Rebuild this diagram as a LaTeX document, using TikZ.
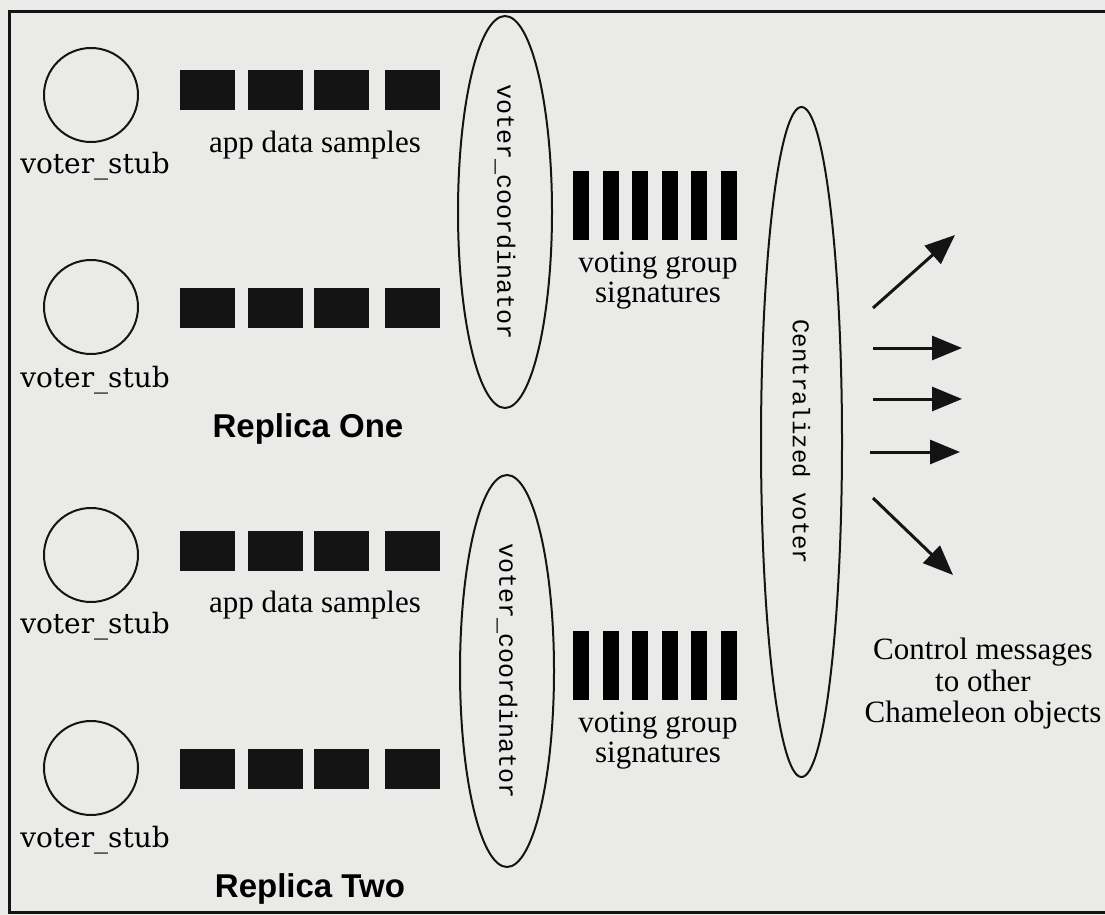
\documentclass[tikz,border=0pt]{standalone}
\usepackage{fontspec}
\setmainfont{Liberation Serif}
\newfontfamily\stubfont{DejaVu Serif}
\newfontfamily\monofont{Liberation Mono}
\newfontfamily\repfont{Liberation Sans}
\usetikzlibrary{arrows.meta,shapes.geometric}
\definecolor{paper}{RGB}{234,234,232}
\definecolor{ink}{RGB}{20,20,20}
\begin{document}
\begin{tikzpicture}[x=1pt,y=-1pt,
  stub/.style={circle, draw=ink, line width=2pt, minimum size=94pt, inner sep=0pt},
  sample/.style={rectangle, fill=ink, minimum width=55pt, minimum height=40pt, inner sep=0pt},
  sigbar/.style={rectangle, fill=black, minimum width=16pt, minimum height=69pt, inner sep=0pt},
  stublabel/.style={font=\stubfont\fontsize{28}{32}\selectfont, inner sep=0pt, anchor=base},
  caption/.style={font=\fontsize{31}{30}\selectfont, align=center, inner sep=0pt},
  replica/.style={font=\repfont\bfseries\fontsize{33}{36}\selectfont, inner sep=0pt, anchor=base},
  coordell/.style={ellipse, draw=ink, line width=2pt, rotate=-90, minimum width=392pt, minimum height=94pt, inner sep=0pt, font=\monofont\fontsize{25}{28}\selectfont},
  voterell/.style={ellipse, draw=ink, line width=2pt, rotate=-90, minimum width=670pt, minimum height=81pt, inner sep=0pt, font=\monofont\fontsize{24}{28}\selectfont},
  msg/.style={draw=ink, line width=3pt, -{Triangle[length=30pt,width=24pt]}}
]
\fill[paper] (0,0) rectangle (1105,915);
\useasboundingbox (0,0) rectangle (1105,915);
\draw[ink, line width=3pt] (1106,12) -- (9,12) -- (9,912) -- (1106,912);

% voter stubs
\node[stub] (c1) at (91,95) {};
\node[stub] (c2) at (91,307) {};
\node[stub] (c3) at (91,555) {};
\node[stub] (c4) at (91,768) {};
\node[stublabel] (l1) at (95,173) {voter\_stub};
\node[stublabel] (l2) at (95,387) {voter\_stub};
\node[stublabel] (l3) at (95,633) {voter\_stub};
\node[stublabel] (l4) at (95,847) {voter\_stub};

% app data samples
\foreach \r/\y in {1/90.5, 2/308, 3/550.5, 4/769} {
  \foreach \i/\x in {1/207, 2/275, 3/341.5, 4/412} {
    \node[sample] (s\r\i) at (\x,\y) {};
  }
}
\node[caption, anchor=base] (ads1) at (315,152) {app data samples};
\node[caption, anchor=base] (ads2) at (315,612) {app data samples};

\node[replica] (rep1) at (308,437) {Replica One};
\node[replica] (rep2) at (310,897) {Replica Two};

% voter coordinators
\node[coordell] (vc1) at (505,212) {voter\_coordinator};
\node[coordell] (vc2) at (507,671) {voter\_coordinator};

% signatures
\foreach \i in {0,...,5} {
  \node[sigbar] (g1\i) at (581+29.6*\i,205.5) {};
  \node[sigbar] (g2\i) at (581+29.6*\i,665.5) {};
}
\node[caption] (sig1) at (658,281) {voting group\\signatures};
\node[caption] (sig2) at (658,741) {voting group\\signatures};

% centralized voter
\node[voterell] (cv) at (801.5,442) {Centralized voter};

% control messages
\coordinate (a1s) at (873,308); \coordinate (a1e) at (955,235);
\coordinate (a2s) at (873,348); \coordinate (a2e) at (962,348);
\coordinate (a3s) at (873,399); \coordinate (a3e) at (962,399);
\coordinate (a4s) at (870,452); \coordinate (a4e) at (960,452);
\coordinate (a5s) at (873,498); \coordinate (a5e) at (953,575);
\draw[msg] (a1s) -- (a1e);
\draw[msg] (a2s) -- (a2e);
\draw[msg] (a3s) -- (a3e);
\draw[msg] (a4s) -- (a4e);
\draw[msg] (a5s) -- (a5e);
\node[caption, font=\fontsize{31}{31.5}\selectfont] (ctl) at (983,684) {Control messages\\to other\\Chameleon objects};
\end{tikzpicture}
\end{document}
